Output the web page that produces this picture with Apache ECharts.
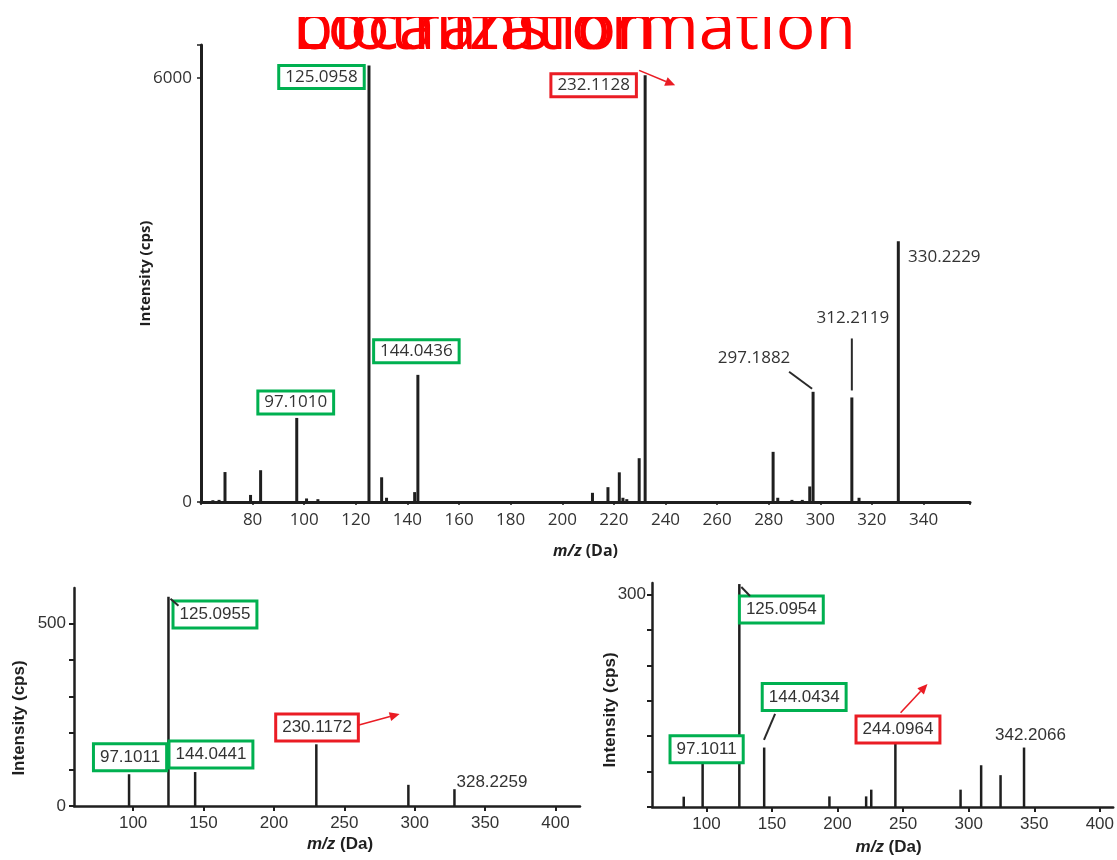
<!DOCTYPE html>
<html><head><meta charset="utf-8">
<script src="https://cdn.jsdelivr.net/npm/echarts@6/dist/echarts.min.js"></script>
<style>html,body{margin:0;padding:0;background:#fff}#c{width:1117px;height:860px}</style>
</head><body><div id="c"></div>
<script>
// ---------- DATA ----------
const titleWords = ['Localization', 'biotransformation'];

// Panel A (top spectrum)
const topMz  = [64.6, 67, 69.3, 79.2, 83.1, 97.1010, 100.9, 105.3, 125.0958, 130, 131.9, 142.8, 144.0436, 211.7, 217.7, 222.1, 223.5, 225, 229.8, 232.1128, 281.7, 283.5, 289, 293, 295.9, 297.1882, 312.2119, 315, 330.2229];
const topInt = [25, 30, 424, 100, 450, 1190, 50, 40, 6180, 350, 60, 140, 1800, 130, 210, 420, 60, 40, 620, 6040, 710, 60, 30, 30, 220, 1560, 1480, 60, 3690];
const topXTicks = [80, 100, 120, 140, 160, 180, 200, 220, 240, 260, 280, 300, 320, 340];
const topYTicks = [0, 6000];
const topLabelMz   = [97.1010, 125.0958, 144.0436, 232.1128, 297.1882, 312.2119, 330.2229];
const topLabelText = ['97.1010', '125.0958', '144.0436', '232.1128', '297.1882', '312.2119', '330.2229'];
const topLabelKind = ['green', 'green', 'green', 'red', 'plain', 'plain', 'plain'];

// Panel B (bottom-left spectrum)
const blMz  = [97.1011, 125.0955, 144.0441, 230.1172, 295.5, 328.2259];
const blInt = [87, 573, 93, 169, 58, 46];
const blXTicks = [100, 150, 200, 250, 300, 350, 400];
const blYTickMarks = [0, 100, 200, 300, 400, 500];
const blYTicks = [0, 500];
const blLabelMz   = [97.1011, 125.0955, 144.0441, 230.1172, 328.2259];
const blLabelText = ['97.1011', '125.0955', '144.0441', '230.1172', '328.2259'];
const blLabelKind = ['green', 'green', 'green', 'red', 'plain'];

// Panel C (bottom-right spectrum)
const brMz  = [82.7, 97.1011, 125.0954, 144.0434, 193.8, 221.8, 225.7, 244.0964, 293.8, 309.5, 324.3, 342.2066];
const brInt = [14.6, 66, 315, 84, 15, 15, 24.5, 90, 24.5, 59, 45, 84];
const brXTicks = [100, 150, 200, 250, 300, 350, 400];
const brYTickMarks = [0, 50, 100, 150, 200, 250, 300];
const brYTicks = [300];
const brLabelMz   = [97.1011, 125.0954, 144.0434, 244.0964, 342.2066];
const brLabelText = ['97.1011', '125.0954', '144.0434', '244.0964', '342.2066'];
const brLabelKind = ['green', 'green', 'green', 'red', 'plain'];

// ---------- LAYOUT / STYLE (annotation placement relative to peak top, px) ----------
const placeTop = {
  '97.1010':  {dx: -1,    dy: -15.5},
  '125.0958': {dx: -47.5, dy: 11.5},
  '144.0436': {dx: -1.5,  dy: -23.5},
  '232.1128': {dx: -51.5, dy: 10,   arrow: [-6, -5, 30, 10]},
  '297.1882': {dx: -59,   dy: -34,  lead: [-24, -20, -1, -3]},
  '312.2119': {dx: 1,     dy: -79,  lead: [0, -59, 0, -7]},
  '330.2229': {dx: 46,    dy: 16}
};
const placeBL = {
  '97.1011':  {dx: 1,    dy: -17},
  '125.0955': {dx: 46.5, dy: 17.8, lead: [2, 2, 10, 9]},
  '144.0441': {dx: 15.8, dy: -17.5},
  '230.1172': {dx: 0.7,  dy: -16.8, arrow: [42.6, -19.3, 83.3, -30.3]},
  '328.2259': {dx: 37.5, dy: -6.7}
};
const placeBR = {
  '97.1011':  {dx: 4,   dy: -11},
  '125.0954': {dx: 42,  dy: 25.5, lead: [2, 3, 10.7, 12]},
  '144.0434': {dx: 40,  dy: -50.6, lead: [10.9, -33.6, -0.2, -7.6]},
  '244.0964': {dx: 2.6, dy: -13.8, arrow: [5.2, -30.6, 32.1, -59.3]},
  '342.2066': {dx: 6.4, dy: -11.8}
};

const ink = '#1f1f1f';
const txt = '#333333';
const green = '#00b050';
const red = '#ea1c24';
const fontA = '"Open Sans", "DejaVu Sans", sans-serif';
const fontB = '"Liberation Sans", Arial, sans-serif';

function pairs(a, b) { return a.map((m, i) => [m, b[i]]); }

const chart = echarts.init(document.getElementById('c'), null, {renderer: 'canvas'});

function xAxisCfg(grid, o) {
  return Object.assign({
    gridIndex: grid, type: 'value', splitLine: {show: false},
    nameLocation: 'middle', nameMoveOverlap: false
  }, o);
}

const option = {
  animation: false,
  backgroundColor: '#fff',
  grid: [
    {left: 201, top: 45, width: 769, height: 457},
    {left: 74, top: 588, width: 506, height: 218},
    {left: 652, top: 583, width: 465, height: 224}
  ],
  xAxis: [
    xAxisCfg(0, {
      min: 60, max: 358, interval: 20,
      axisLine: {lineStyle: {color: ink, width: 3}},
      axisTick: {length: 3, lineStyle: {color: ink, width: 1.5}},
      axisLabel: {color: txt, fontSize: 17, fontFamily: fontA, margin: 10,
        formatter: v => topXTicks.includes(v) ? String(v) : ''},
      name: '{i|m/z} (Da)', nameGap: 41,
      nameTextStyle: {color: ink, fontSize: 16, fontWeight: 'bold', fontFamily: fontA,
        rich: {i: {fontStyle: 'italic', fontWeight: 'bold', fontSize: 16, fontFamily: fontA, color: ink}}}
    }),
    xAxisCfg(1, {
      min: 58, max: 417.4,
      axisLine: {lineStyle: {color: ink, width: 2.5}},
      axisTick: {length: 5, lineStyle: {color: ink, width: 2}, customValues: blXTicks},
      axisLabel: {color: txt, fontSize: 17, fontFamily: fontB, margin: 9, customValues: blXTicks},
      name: '{i|m/z} (Da)', nameGap: 30,
      nameTextStyle: {color: ink, fontSize: 17, fontWeight: 'bold', fontFamily: fontB, padding: [0, 0, 0, 26],
        rich: {i: {fontStyle: 'italic', fontWeight: 'bold', fontSize: 17, fontFamily: fontB, color: ink}}}
    }),
    xAxisCfg(2, {
      min: 58.5, max: 410.2,
      axisLine: {lineStyle: {color: ink, width: 2.5}},
      axisTick: {length: 5, lineStyle: {color: ink, width: 2}, customValues: brXTicks},
      axisLabel: {color: txt, fontSize: 17, fontFamily: fontB, margin: 9, customValues: brXTicks},
      name: '{i|m/z} (Da)', nameGap: 32,
      nameTextStyle: {color: ink, fontSize: 17, fontWeight: 'bold', fontFamily: fontB, padding: [0, 0, 0, 12],
        rich: {i: {fontStyle: 'italic', fontWeight: 'bold', fontSize: 17, fontFamily: fontB, color: ink}}}
    })
  ],
  yAxis: [
    {gridIndex: 0, type: 'value', min: 0, max: 6470, interval: 6000, splitLine: {show: false},
      axisLine: {show: true, lineStyle: {color: ink, width: 3}},
      axisTick: {show: true, length: 4, lineStyle: {color: ink, width: 1.5}},
      axisLabel: {color: txt, fontSize: 17, fontFamily: fontA, margin: 9,
        formatter: v => topYTicks.includes(v) ? String(v) : ''},
      name: 'Intensity (cps)', nameLocation: 'middle', nameGap: 48, nameMoveOverlap: false,
      nameTextStyle: {color: ink, fontSize: 15, fontWeight: 'bold', fontFamily: fontA}},
    {gridIndex: 1, type: 'value', min: 0, max: 597, splitLine: {show: false},
      axisLine: {show: true, lineStyle: {color: ink, width: 2.5}},
      axisTick: {show: true, length: 5, lineStyle: {color: ink, width: 2}, customValues: blYTickMarks},
      axisLabel: {color: txt, fontSize: 17, fontFamily: fontB, margin: 8, customValues: blYTicks},
      name: 'Intensity (cps)', nameLocation: 'middle', nameGap: 46, nameMoveOverlap: false,
      nameTextStyle: {color: ink, fontSize: 17, fontWeight: 'bold', fontFamily: fontB, padding: [0, 42, 0, 0]}},
    {gridIndex: 2, type: 'value', min: 0, max: 316.5, splitLine: {show: false},
      axisLine: {show: true, lineStyle: {color: ink, width: 2.5}},
      axisTick: {show: true, length: 5, lineStyle: {color: ink, width: 2}, customValues: brYTickMarks},
      axisLabel: {color: txt, fontSize: 17, fontFamily: fontB, margin: 6, customValues: brYTicks},
      name: 'Intensity (cps)', nameLocation: 'middle', nameGap: 33, nameMoveOverlap: false,
      nameTextStyle: {color: ink, fontSize: 17, fontWeight: 'bold', fontFamily: fontB, padding: [0, 30, 0, 0]}}
  ],
  series: [
    {type: 'bar', xAxisIndex: 0, yAxisIndex: 0, data: pairs(topMz, topInt), barWidth: 3,
      itemStyle: {color: ink}, silent: true},
    {type: 'bar', xAxisIndex: 1, yAxisIndex: 1, data: pairs(blMz, blInt), barWidth: 2.5,
      itemStyle: {color: ink}, silent: true},
    {type: 'bar', xAxisIndex: 2, yAxisIndex: 2, data: pairs(brMz, brInt), barWidth: 2.5,
      itemStyle: {color: ink}, silent: true}
  ]
};
chart.setOption(option);

// ---------- annotations placed from data coordinates ----------
const graphics = [];
titleWords.forEach(w => graphics.push({
  type: 'text', z: 100,
  style: {text: w, x: 293, y: 30, font: '66px "Open Sans"', fill: '#ff0000', verticalAlign: 'middle', align: 'left'}
}));
// the title is cut off just above its lowercase letters, as in the reference
graphics.push({type: 'rect', z: 101, shape: {x: 270, y: 0, width: 640, height: 17}, style: {fill: '#fff'}});

function arrow(x1, y1, x2, y2, color) {
  const ang = Math.atan2(y2 - y1, x2 - x1), L = 10, W = 4.5;
  const bx = x2 - L * Math.cos(ang), by = y2 - L * Math.sin(ang);
  const px = -Math.sin(ang) * W, py = Math.cos(ang) * W;
  graphics.push({type: 'line', z: 60, shape: {x1, y1, x2: bx, y2: by}, style: {stroke: color, lineWidth: 1.6}});
  graphics.push({type: 'polygon', z: 60, shape: {points: [[x2, y2], [bx + px, by + py], [bx - px, by - py]]}, style: {fill: color}});
}

function annotate(gridIndex, mzArr, intArr, labMz, labText, labKind, place, font, size, padding) {
  labMz.forEach((m, i) => {
    const idx = mzArr.indexOf(m);
    const p = chart.convertToPixel({gridIndex}, [m, intArr[idx]]);
    const pl = place[labText[i]];
    const kind = labKind[i];
    const st = {text: labText[i], x: p[0] + pl.dx, y: p[1] + pl.dy, align: 'center', verticalAlign: 'middle',
      font: size + 'px ' + font, fill: txt};
    if (kind !== 'plain') {
      Object.assign(st, {backgroundColor: '#fff', borderColor: kind === 'green' ? green : red, borderWidth: 3, padding: padding});
    }
    graphics.push({type: 'text', z: 50, style: st});
    if (pl.lead) {
      graphics.push({type: 'line', z: 55, shape: {x1: p[0] + pl.lead[0], y1: p[1] + pl.lead[1], x2: p[0] + pl.lead[2], y2: p[1] + pl.lead[3]},
        style: {stroke: '#2a2a2a', lineWidth: 2}});
    }
    if (pl.arrow) {
      arrow(p[0] + pl.arrow[0], p[1] + pl.arrow[1], p[0] + pl.arrow[2], p[1] + pl.arrow[3], red);
    }
  });
}
annotate(0, topMz, topInt, topLabelMz, topLabelText, topLabelKind, placeTop, fontA, 17, [2, 5, 1, 5]);
annotate(1, blMz, blInt, blLabelMz, blLabelText, blLabelKind, placeBL, fontB, 17, [4, 5, 3, 5]);
annotate(2, brMz, brInt, brLabelMz, brLabelText, brLabelKind, placeBR, fontB, 17, [4, 5, 3, 5]);

chart.setOption({graphic: graphics});
</script>
</body></html>
